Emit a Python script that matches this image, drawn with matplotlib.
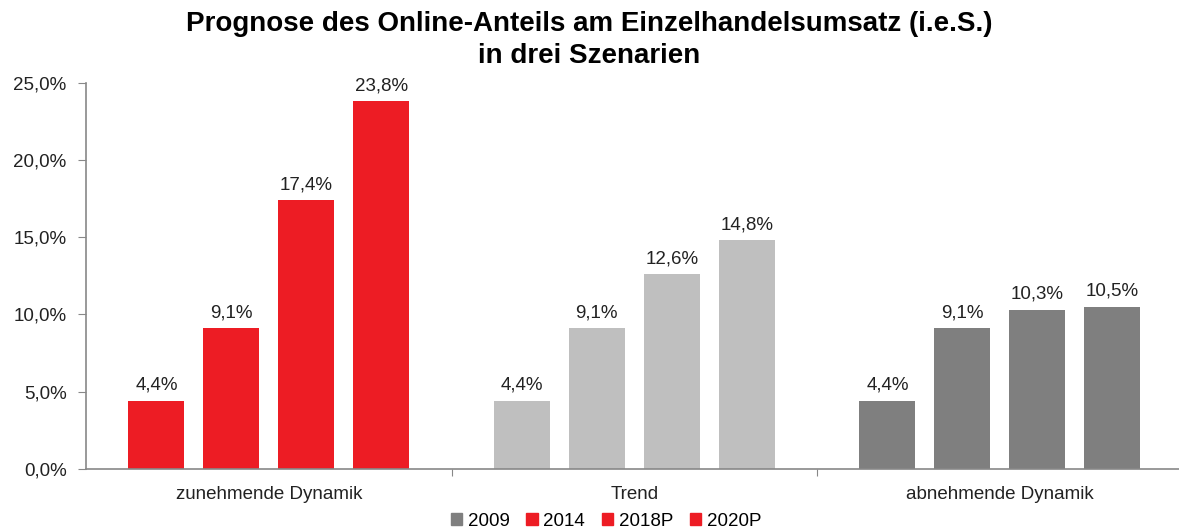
import numpy as np
import matplotlib.pyplot as plt
from matplotlib.patches import Patch

plt.rcParams['font.family'] = ['Liberation Sans', 'DejaVu Sans']

# data
scenarios = ['zunehmende Dynamik', 'Trend', 'abnehmende Dynamik']
years = ['2009', '2014', '2018P', '2020P']
zunehmend = [4.4, 9.1, 17.4, 23.8]
trend = [4.4, 9.1, 12.6, 14.8]
abnehmend = [4.4, 9.1, 10.3, 10.5]
values = [zunehmend, trend, abnehmend]
group_colors = ['#ED1C24', '#BFBFBF', '#7F7F7F']
legend_colors = ['#7F7F7F', '#ED1C24', '#ED1C24', '#ED1C24']

fig = plt.figure(figsize=(11.79, 5.28), dpi=100)
ax = fig.add_axes([0.073, 0.112, 0.93, 0.731])

width = 0.153
step = 0.205
offsets = (np.arange(len(years)) - 1.5) * step
for g, vals in enumerate(values):
    xs = g + offsets
    ax.bar(xs, vals, width=width, color=group_colors[g], zorder=2)
    for x, v in zip(xs, vals):
        ax.text(x, v + 0.45, f'{v:.1f}%'.replace('.', ','), ha='center', va='bottom',
                fontsize=13.5, color='#222222')

ax.set_xlim(-0.5, 2.5)
ax.set_ylim(0, 25)
ax.set_yticks(np.arange(0, 26, 5))
ax.set_yticklabels([f'{t:.1f}%'.replace('.', ',') for t in np.arange(0, 26, 5)],
                   fontsize=13.5, color='#222222')
ax.set_xticks([0.5, 1.5])
ax.set_xticklabels([])
ax.set_xticks([0, 1, 2], minor=True)
ax.set_xticklabels(scenarios, minor=True, fontsize=13.5, color='#222222')
ax.tick_params(axis='x', which='minor', length=0, pad=12)
ax.tick_params(axis='x', which='major', length=5, color='#888888', direction='out')
ax.tick_params(axis='y', length=6, color='#888888', pad=8)

for s in ['top', 'right']:
    ax.spines[s].set_visible(False)
for s in ['left', 'bottom']:
    ax.spines[s].set_color('#888888')
    ax.spines[s].set_linewidth(1.2)

fig.suptitle('Prognose des Online-Anteils am Einzelhandelsumsatz (i.e.S.)\nin drei Szenarien',
             fontsize=20, fontweight='bold', y=0.98, linespacing=1.3)

handles = [Patch(color=c, label=y) for c, y in zip(legend_colors, years)]
fig.legend(handles=handles, loc='lower center', bbox_to_anchor=(0.514, -0.035), ncol=4,
           frameon=False, fontsize=13.5, handlelength=0.6, handleheight=0.6,
           handletextpad=0.3, columnspacing=0.9)

fig.savefig('out.png', dpi=100)
